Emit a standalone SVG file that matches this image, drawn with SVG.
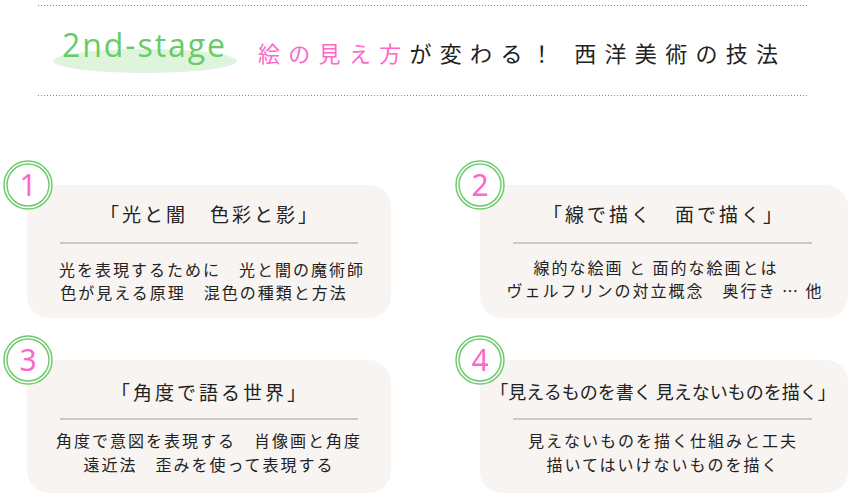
<svg xmlns="http://www.w3.org/2000/svg" width="850" height="500" viewBox="0 0 850 500">
<style>
.box{fill:#f8f4f1}
.ring{fill:#fff;stroke:#6dcc6d;stroke-width:1.5}
.num{font-family:"Noto Sans","Noto Sans CJK JP",sans-serif;font-size:30px;fill:#ff66cc;text-anchor:middle}
.t{font-family:"Noto Sans CJK JP",sans-serif;fill:#222;text-anchor:middle}
.h{font-size:19px;letter-spacing:3px}
.b{font-size:16px;letter-spacing:2px}
.div{stroke:#ccc8c4;stroke-width:2}
.dot{stroke:#888;stroke-width:1;stroke-dasharray:1 2}
</style>
<line class="dot" x1="38" y1="5.5" x2="808" y2="5.5"/>
<line class="dot" x1="38" y1="95.5" x2="808" y2="95.5"/>
<g id="header">
<ellipse cx="145" cy="61" rx="92" ry="12" fill="#dff4dc"/>
<text x="62" y="57" font-family="'Open Sans',sans-serif" font-size="32" textLength="163" fill="#66cc66">2nd-stage</text>
<text x="258" y="62" font-family="'Noto Sans CJK JP',sans-serif" font-size="22" letter-spacing="8.3" fill="#222"><tspan fill="#ff66cc">絵の見え方</tspan>が変わる！ 西洋美術の技法</text>
</g>
<g id="n1">
<rect class="box" x="27" y="185" width="364" height="133" rx="22"/>
<circle class="ring" cx="28" cy="185" r="24"/><circle cx="28" cy="185" r="21" fill="none" stroke="#6dcc6d" stroke-width="1.5"/>
<text class="num" x="28" y="196">1</text>
<text class="t h" x="210" y="222">「光と闇　色彩と影」</text>
<line class="div" x1="60" y1="243" x2="358" y2="243"/>
<text class="t b" x="212" y="276">光を表現するために　光と闇の魔術師</text>
<text class="t b" x="204" y="299">色が見える原理　混色の種類と方法</text>
</g>
<g id="n2">
<rect class="box" x="480" y="185" width="368" height="133" rx="22"/>
<circle class="ring" cx="480" cy="185" r="24"/><circle cx="480" cy="185" r="21" fill="none" stroke="#6dcc6d" stroke-width="1.5"/>
<text class="num" x="480" y="196">2</text>
<text class="t h" x="664" y="222">「線で描く　面で描く」</text>
<line class="div" x1="513" y1="243" x2="812" y2="243"/>
<text class="t b" x="656" y="274">線的な絵画 と 面的な絵画とは</text>
<text class="t b" x="665" y="297">ヴェルフリンの対立概念　奥行き … 他</text>
</g>
<g id="n3">
<rect class="box" x="27" y="360" width="364" height="133" rx="22"/>
<circle class="ring" cx="28" cy="360" r="24"/><circle cx="28" cy="360" r="21" fill="none" stroke="#6dcc6d" stroke-width="1.5"/>
<text class="num" x="28" y="371">3</text>
<text class="t h" x="210" y="400">「角度で語る世界」</text>
<line class="div" x1="60" y1="419" x2="358" y2="419"/>
<text class="t b" x="209" y="447">角度で意図を表現する　肖像画と角度</text>
<text class="t b" x="209" y="471">遠近法　歪みを使って表現する</text>
</g>
<g id="n4">
<rect class="box" x="480" y="360" width="368" height="133" rx="22"/>
<circle class="ring" cx="480" cy="360" r="24"/><circle cx="480" cy="360" r="21" fill="none" stroke="#6dcc6d" stroke-width="1.5"/>
<text class="num" x="480" y="371">4</text>
<text class="t" font-size="18" x="663" y="399">「見えるものを書く 見えないものを描く」</text>
<line class="div" x1="513" y1="419" x2="812" y2="419"/>
<text class="t b" x="663" y="447">見えないものを描く仕組みと工夫</text>
<text class="t b" x="663" y="471">描いてはいけないものを描く</text>
</g>
<g id="connectors"/>
</svg>
